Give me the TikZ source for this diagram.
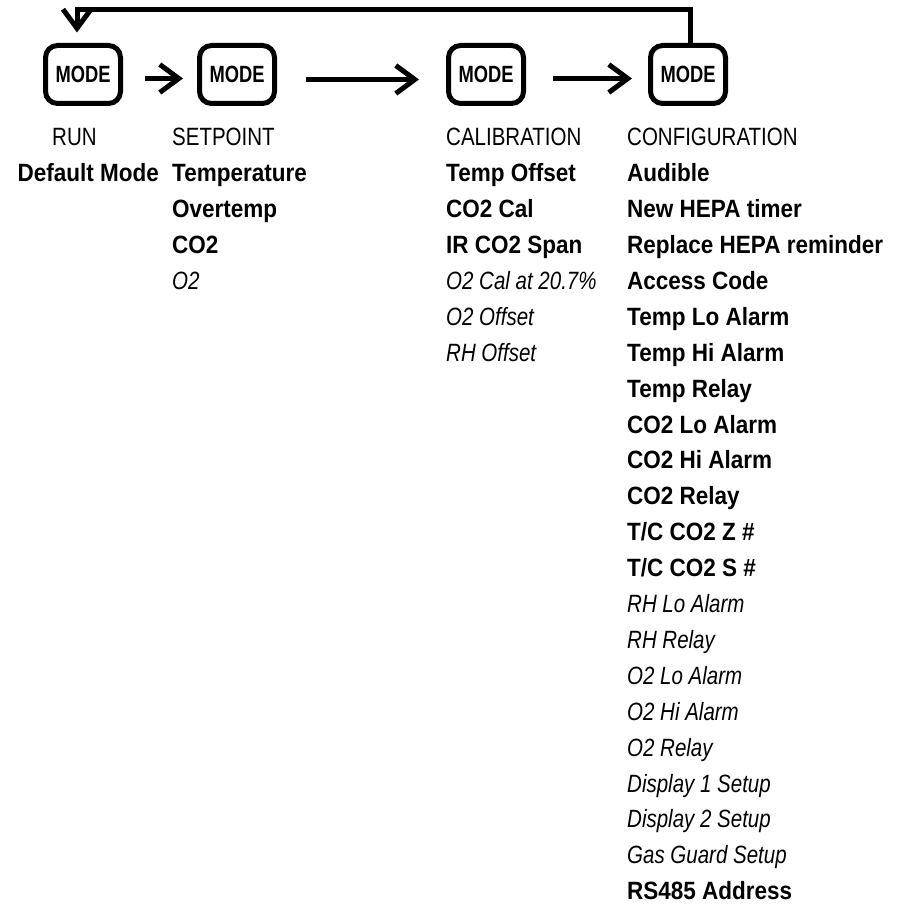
\documentclass[tikz,border=0pt]{standalone}
\usepackage{fontspec}
\setmainfont{Liberation Sans}
\newfontfamily\condf[FakeStretch=0.82]{Liberation Sans}
\newfontfamily\condb[FakeStretch=0.9]{Liberation Sans}
\newfontfamily\modef[FakeStretch=0.78]{Liberation Sans}
\usetikzlibrary{arrows.meta}
\begin{document}
\begin{tikzpicture}[x=1pt,y=-1pt,
  modebtn/.style={draw, line width=5pt, rounded corners=12pt, minimum width=75pt,
    minimum height=58pt, inner sep=0pt, font=\modef\bfseries\fontsize{23.5}{24}\selectfont},
  conn/.style={line width=5pt, -{Straight Barb[length=19pt,width=28pt]}},
  hd/.style={anchor=base west, inner sep=0pt, font=\condf\fontsize{25}{30}\selectfont},
  bd/.style={anchor=base west, inner sep=0pt, font=\condb\bfseries\fontsize{25}{30}\selectfont},
  it/.style={anchor=base west, inner sep=0pt, font=\condf\itshape\fontsize{25}{30}\selectfont}]
\useasboundingbox (0,0) rectangle (899,904);

% MODE buttons
\node[modebtn] (b1) at (83,74.5) {MODE};
\node[modebtn] (b2) at (237,74.5) {MODE};
\node[modebtn] (b3) at (486,74.5) {MODE};
\node[modebtn] (b4) at (688,74.5) {MODE};

% forward arrows
\draw[conn] ([xshift=22pt,yshift=-4pt]b1.east) -- ([xshift=-14pt,yshift=-4pt]b2.west);
\draw[conn] ([xshift=29pt,yshift=-5pt]b2.east) -- ([xshift=-27pt,yshift=-5pt]b3.west);
\draw[conn] ([xshift=27pt,yshift=-4pt]b3.east) -- ([xshift=-16pt,yshift=-4pt]b4.west);

% feedback loop
\coordinate (lr) at (690,9.5);
\coordinate (ll) at (77,9.5);
\draw[conn] (lr |- b4.north) -- (lr) -- (ll) -- ([xshift=-6pt,yshift=10.5pt]b1.north);

% RUN column
\node[hd] (r0) at (52,145.8) {RUN};
\node[bd] (r1) at (17.5,181.7) {Default Mode};

% SETPOINT column
\node[hd] (s0) at (172,145.8) {SETPOINT};
\node[bd] (s1) at (172,181.7) {Temperature};
\node[bd] (s2) at (172,217.6) {Overtemp};
\node[bd] (s3) at (172,253.5) {CO2};
\node[it] (s4) at (172,289.4) {O2};

% CALIBRATION column
\node[hd] (c0) at (446,145.8) {CALIBRATION};
\node[bd] (c1) at (446,181.7) {Temp Offset};
\node[bd] (c2) at (446,217.6) {CO2 Cal};
\node[bd] (c3) at (446,253.5) {IR CO2 Span};
\node[it] (c4) at (446,289.4) {O2 Cal at 20.7\%};
\node[it] (c5) at (446,325.3) {O2 Offset};
\node[it] (c6) at (446,361.2) {RH Offset};

% CONFIGURATION column
\node[hd] (f0) at (627,145.8) {CONFIGURATION};
\node[bd] (f1) at (627,181.7) {Audible};
\node[bd] (f2) at (627,217.6) {New HEPA timer};
\node[bd] (f3) at (627,253.5) {Replace HEPA reminder};
\node[bd] (f4) at (627,289.4) {Access Code};
\node[bd] (f5) at (627,325.3) {Temp Lo Alarm};
\node[bd] (f6) at (627,361.2) {Temp Hi Alarm};
\node[bd] (f7) at (627,397.1) {Temp Relay};
\node[bd] (f8) at (627,433.0) {CO2 Lo Alarm};
\node[bd] (f9) at (627,468.9) {CO2 Hi Alarm};
\node[bd] (f10) at (627,504.8) {CO2 Relay};
\node[bd] (f11) at (627,540.7) {T/C CO2 Z \#};
\node[bd] (f12) at (627,576.6) {T/C CO2 S \#};
\node[it] (f13) at (627,612.5) {RH Lo Alarm};
\node[it] (f14) at (627,648.4) {RH Relay};
\node[it] (f15) at (627,684.3) {O2 Lo Alarm};
\node[it] (f16) at (627,720.2) {O2 Hi Alarm};
\node[it] (f17) at (627,756.1) {O2 Relay};
\node[it] (f18) at (627,792.0) {Display 1 Setup};
\node[it] (f19) at (627,827.9) {Display 2 Setup};
\node[it] (f20) at (627,863.8) {Gas Guard Setup};
\node[bd] (f21) at (627,899.7) {RS485 Address};
\end{tikzpicture}
\end{document}
